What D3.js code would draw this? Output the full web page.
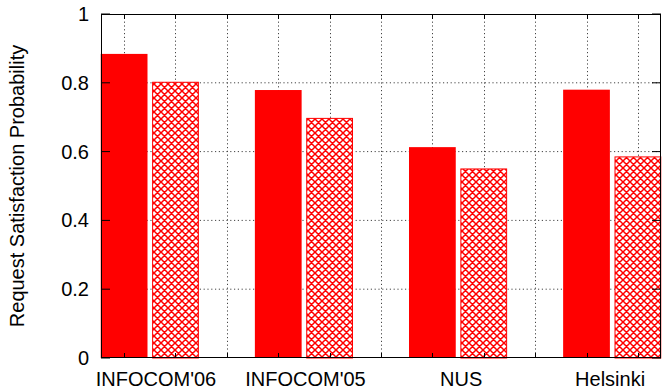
<!DOCTYPE html>
<html><head><meta charset="utf-8">
<script src="https://cdn.jsdelivr.net/npm/d3@7"></script>
<style>body{margin:0;background:#fff}svg{display:block}text{font-family:"Liberation Sans",Arial,sans-serif;fill:#000}</style>
</head><body><svg id="c" width="663" height="391"></svg>
<script>
const categories = ["INFOCOM'06","INFOCOM'05","NUS","Helsinki"];
const seriesA = [0.884, 0.779, 0.613, 0.780];
const seriesB = [0.803, 0.698, 0.551, 0.586];
const yTicks = [0, 0.2, 0.4, 0.6, 0.8, 1];
const yTickLabels = ["0","0.2","0.4","0.6","0.8","1"];
const labelPos = [0.62, 3.53, 6.56, 9.46];
const gridX = d3.range(0, 11);

const svg = d3.select("#c");
const L = 101, R = 661, T = 14, B = 358;
const x = d3.scaleLinear().domain([-0.45, 10.45]).range([L, R]);
const y = d3.scaleLinear().domain([0, 1]).range([B, T]);
const bw = 0.91;

const defs = svg.append("defs");
const P = 7;
const pat = defs.append("pattern").attr("id","hatch").attr("patternUnits","userSpaceOnUse")
  .attr("width",P).attr("height",P);
pat.append("rect").attr("width",P).attr("height",P).attr("fill","#fff");
pat.append("path").attr("d",`M-1,1 L1,-1 M0,${P} L${P},0 M${P-1},${P+1} L${P+1},${P-1} M-1,${P-1} L1,${P+1} M0,0 L${P},${P} M${P-1},-1 L${P+1},1`)
  .attr("stroke","#ff0000").attr("stroke-width",1.5);

// grid
const g = svg.append("g");
g.selectAll("line.gy").data(yTicks.filter(v=>v>0 && v<1)).enter().append("line")
  .attr("x1",L).attr("x2",R).attr("y1",d=>y(d)).attr("y2",d=>y(d))
  .attr("stroke","#444").attr("stroke-width",1).attr("stroke-dasharray","1.2,2.6");
g.selectAll("line.gx").data(gridX).enter().append("line")
  .attr("x1",d=>Math.round(x(d))+0.5).attr("x2",d=>Math.round(x(d))+0.5).attr("y1",T).attr("y2",B)
  .attr("stroke","#444").attr("stroke-width",1).attr("stroke-dasharray","1.2,2.6");

// bars
const bars = svg.append("g");
bars.selectAll("rect.a").data(seriesA).enter().append("rect")
  .attr("x",(d,i)=>x(i*3 - bw/2)).attr("width",x(bw)-x(0))
  .attr("y",d=>y(d)).attr("height",d=>y(0)-y(d)).attr("fill","#ff0000");
bars.selectAll("rect.b").data(seriesB).enter().append("rect")
  .attr("x",(d,i)=>x(i*3 + 1 - bw/2)+0.5).attr("width",x(bw)-x(0)-1)
  .attr("y",d=>y(d)+0.5).attr("height",d=>y(0)-y(d)-0.5)
  .attr("fill","url(#hatch)").attr("stroke","#ff0000").attr("stroke-width",1);

// border + ticks
const ax = svg.append("g").attr("stroke","#000").attr("stroke-width",1);
ax.append("rect").attr("x",L+0.5).attr("y",T+0.5).attr("width",R-L-1).attr("height",B-T-1)
  .attr("fill","none");
ax.selectAll("line.ty").data(yTicks).enter().append("line")
  .attr("x1",L).attr("x2",L+9).attr("y1",d=>y(d)).attr("y2",d=>y(d));
ax.selectAll("line.ty2").data(yTicks).enter().append("line")
  .attr("x1",R-9).attr("x2",R).attr("y1",d=>y(d)).attr("y2",d=>y(d));
ax.selectAll("line.tx").data(gridX).enter().append("line")
  .attr("x1",d=>Math.round(x(d))+0.5).attr("x2",d=>Math.round(x(d))+0.5).attr("y1",B).attr("y2",B-5);
ax.selectAll("line.tx2").data(gridX).enter().append("line")
  .attr("x1",d=>Math.round(x(d))+0.5).attr("x2",d=>Math.round(x(d))+0.5).attr("y1",T).attr("y2",T+5);

// tick labels
svg.selectAll("text.yl").data(yTicks).enter().append("text")
  .attr("x",L-12).attr("y",d=>y(d)).attr("dy","0.35em").attr("text-anchor","end")
  .attr("font-size",20).text((d,i)=>yTickLabels[i]);
svg.selectAll("text.xl").data(categories).enter().append("text")
  .attr("x",(d,i)=>x(labelPos[i])).attr("y",386).attr("text-anchor","middle")
  .attr("font-size",20).text(d=>d);
svg.append("text").attr("transform",`translate(24,${(T+B)/2}) rotate(-90)`)
  .attr("text-anchor","middle").attr("font-size",20).text("Request Satisfaction Probability");
</script></body></html>
